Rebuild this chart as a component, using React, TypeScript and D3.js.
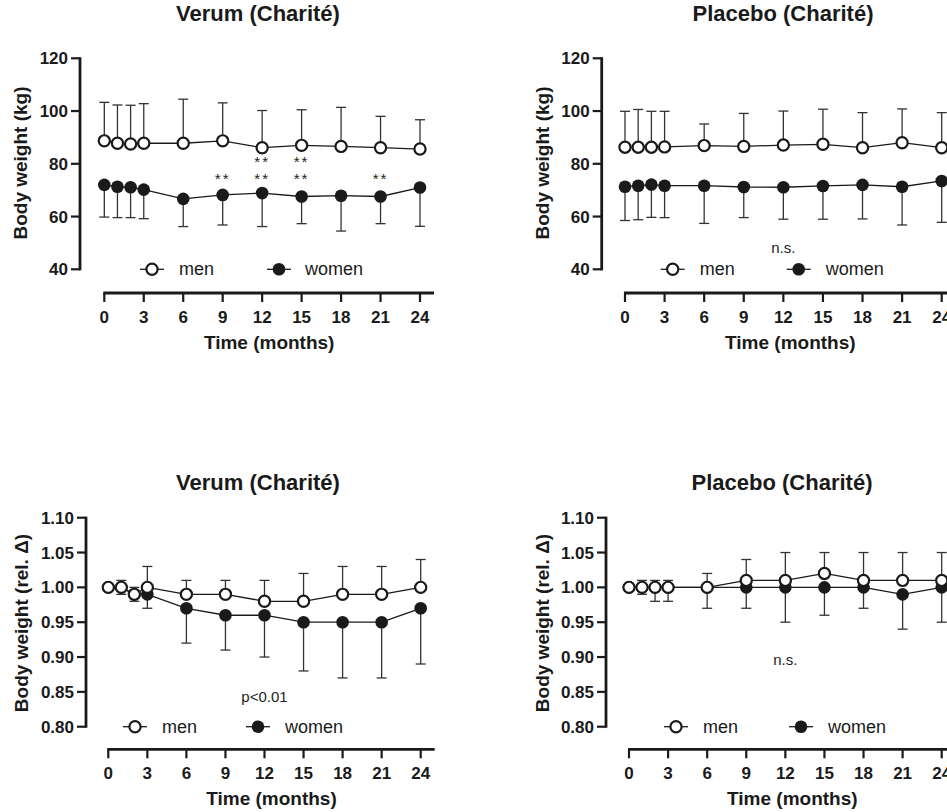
import React from 'react';
import * as d3 from 'd3';

// time points (months) and axis ticks
const months = [0, 1, 2, 3, 6, 9, 12, 15, 18, 21, 24];
const xTicks = [0, 3, 6, 9, 12, 15, 18, 21, 24];
const kgTicks = [40, 60, 80, 100, 120];
const relTicks = [0.8, 0.85, 0.9, 0.95, 1.0, 1.05, 1.1];

// Verum, body weight in kg (mean, SD)
const verumKgMen = [88.7, 87.8, 87.5, 87.8, 87.8, 88.7, 86.1, 87.0, 86.6, 86.1, 85.6];
const verumKgMenSD = [14.6, 14.5, 14.7, 15.0, 16.7, 14.4, 14.1, 13.5, 14.8, 11.9, 11.1];
const verumKgWomen = [72.0, 71.3, 71.1, 70.2, 66.7, 68.2, 68.9, 67.6, 67.9, 67.6, 71.0];
const verumKgWomenSD = [12.2, 11.7, 11.5, 11.0, 10.5, 11.4, 12.7, 10.3, 13.4, 10.3, 14.7];

// Placebo, body weight in kg
const placeboKgMen = [86.3, 86.3, 86.3, 86.4, 86.9, 86.6, 87.1, 87.4, 86.1, 88.0, 86.1];
const placeboKgMenSD = [13.6, 14.3, 13.6, 13.5, 8.2, 12.5, 12.9, 13.3, 13.3, 12.8, 13.3];
const placeboKgWomen = [71.3, 71.7, 72.1, 71.7, 71.7, 71.2, 71.1, 71.6, 72.0, 71.3, 73.5];
const placeboKgWomenSD = [12.8, 12.9, 12.4, 12.1, 14.3, 11.6, 12.1, 12.6, 12.9, 14.5, 15.7];

// Verum, relative change
const verumRelMen = [1.0, 1.0, 0.99, 1.0, 0.99, 0.99, 0.98, 0.98, 0.99, 0.99, 1.0];
const verumRelMenSD = [0, 0.01, 0.01, 0.03, 0.02, 0.02, 0.03, 0.04, 0.04, 0.04, 0.04];
const verumRelWomen = [1.0, 1.0, 0.99, 0.99, 0.97, 0.96, 0.96, 0.95, 0.95, 0.95, 0.97];
const verumRelWomenSD = [0, 0.01, 0.01, 0.02, 0.05, 0.05, 0.06, 0.07, 0.08, 0.08, 0.08];

// Placebo, relative change
const placeboRelMen = [1.0, 1.0, 1.0, 1.0, 1.0, 1.01, 1.01, 1.02, 1.01, 1.01, 1.01];
const placeboRelMenSD = [0, 0.01, 0.01, 0.01, 0.02, 0.03, 0.04, 0.03, 0.04, 0.04, 0.04];
const placeboRelWomen = [1.0, 1.0, 1.0, 1.0, 1.0, 1.0, 1.0, 1.0, 1.0, 0.99, 1.0];
const placeboRelWomenSD = [0, 0.01, 0.02, 0.02, 0.03, 0.03, 0.05, 0.04, 0.03, 0.05, 0.05];

// significance marks: [month, value, text]
const verumKgMarks = [[9, 74.2, '**'], [12, 74.2, '**'], [15, 74.2, '**'], [21, 74.2, '**'], [12, 80.6, '**'], [15, 80.6, '**']];
const placeboKgMarks = [[12, 48.1, 'n.s.']];
const verumRelMarks = [[12, 0.843, 'p<0.01']];
const placeboRelMarks = [[12, 0.896, 'n.s.']];

const FONT = "'Liberation Sans', Arial, Helvetica, sans-serif";
const INK = '#1a1a1a';

const Panel = ({ p }) => {
	const x = d3.scaleLinear().domain([0, 24]).range([p.x0, p.x24]);
	const y = d3.scaleLinear().domain(p.domain).range([p.yBot, p.yTop]);
	const line = d3.line().x((d, i) => x(months[i])).y(d => y(d));
	const fmt = p.rel ? d3.format('.2f') : d3.format('d');
	const cap = 5;

	const bars = (vals, sd, dir) =>
		vals.map((v, i) => {
			if (!sd[i]) return null;
			const yEnd = y(v + dir * sd[i]);
			const xx = x(months[i]);
			return (
				<g key={`${dir}-${i}`} stroke="#333" strokeWidth={1.3}>
					<line x1={xx} x2={xx} y1={y(v)} y2={yEnd} />
					<line x1={xx - cap} x2={xx + cap} y1={yEnd} y2={yEnd} />
				</g>
			);
		});

	const legY = y(p.domain[0]);
	return (
		<g fontFamily={FONT} fill={INK}>
			<text x={p.titleX} y={p.titleY} textAnchor="middle" fontSize={22} fontWeight="bold">{p.title}</text>

			{/* y axis */}
			<line x1={p.yAxisX} x2={p.yAxisX} y1={p.yTop - 1} y2={p.yBot + 1} stroke={INK} strokeWidth={2.8} />
			{p.yTicks.map(t => (
				<g key={t}>
					<line x1={p.yAxisX - 9} x2={p.yAxisX} y1={y(t)} y2={y(t)} stroke={INK} strokeWidth={2.2} />
					<text x={p.yAxisX - 12} y={y(t)} dy="0.36em" textAnchor="end" fontSize={17} fontWeight="bold">{fmt(t)}</text>
				</g>
			))}
			<text transform={`translate(${p.yTitleX},${p.yTitleY}) rotate(-90)`} textAnchor="middle" fontSize={19} fontWeight="bold">{p.yTitle}</text>

			{/* x axis */}
			<line x1={x(0) - 1} x2={x(24) + 14} y1={p.xAxisY} y2={p.xAxisY} stroke={INK} strokeWidth={2.8} />
			{xTicks.map(t => (
				<g key={t}>
					<line x1={x(t)} x2={x(t)} y1={p.xAxisY} y2={p.xAxisY + 9} stroke={INK} strokeWidth={2.2} />
					<text x={x(t)} y={p.xAxisY + 30} textAnchor="middle" fontSize={17} fontWeight="bold">{t}</text>
				</g>
			))}
			<text x={(x(0) + x(24) + 14) / 2} y={p.xAxisY + 56} textAnchor="middle" fontSize={19} fontWeight="bold">Time (months)</text>

			{/* data */}
			{bars(p.women, p.womenSD, -1)}
			{bars(p.men, p.menSD, 1)}
			<path d={line(p.women)} fill="none" stroke={INK} strokeWidth={1.3} />
			<path d={line(p.men)} fill="none" stroke={INK} strokeWidth={1.3} />
			{p.women.map((v, i) => (
				<circle key={`w${i}`} cx={x(months[i])} cy={y(v)} r={6.3} fill={INK} />
			))}
			{p.men.map((v, i) => (
				<circle key={`m${i}`} cx={x(months[i])} cy={y(v)} r={5.6} fill="#fff" stroke={INK} strokeWidth={2.2} />
			))}

			{/* annotations */}
			{p.marks.map(([m, v, s], i) => (
				<text key={i} x={x(m)} y={y(v)} dy="0.35em" textAnchor="middle" fontSize={15} fill="#222" letterSpacing={s === '**' ? 2 : 0}>{s}</text>
			))}

			{/* legend */}
			<g>
				<line x1={p.yAxisX + p.leg[0] - 12} x2={p.yAxisX + p.leg[0] + 12} y1={legY} y2={legY} stroke={INK} strokeWidth={1.3} />
				<circle cx={p.yAxisX + p.leg[0]} cy={legY} r={5.6} fill="#fff" stroke={INK} strokeWidth={2.2} />
				<text x={p.yAxisX + p.leg[1]} y={legY} dy="0.33em" fontSize={18}>men</text>
				<line x1={p.yAxisX + p.leg[2] - 12} x2={p.yAxisX + p.leg[2] + 12} y1={legY} y2={legY} stroke={INK} strokeWidth={1.3} />
				<circle cx={p.yAxisX + p.leg[2]} cy={legY} r={6.3} fill={INK} />
				<text x={p.yAxisX + p.leg[3]} y={legY} dy="0.33em" fontSize={18}>women</text>
			</g>
		</g>
	);
};

const panels = [
	{
		title: 'Verum (Charité)', titleX: 258, titleY: 21,
		yTitle: 'Body weight (kg)', yTitleX: 27, yTitleY: 163,
		yAxisX: 80, yTop: 58.3, yBot: 269.3, domain: [40, 120], yTicks: kgTicks,
		x0: 104.3, x24: 420, xAxisY: 293, rel: false,
		men: verumKgMen, menSD: verumKgMenSD, women: verumKgWomen, womenSD: verumKgWomenSD,
		marks: verumKgMarks, leg: [72, 99, 199, 225],
	},
	{
		title: 'Placebo (Charité)', titleX: 783, titleY: 21,
		yTitle: 'Body weight (kg)', yTitleX: 549, yTitleY: 163,
		yAxisX: 601.7, yTop: 58.3, yBot: 269.3, domain: [40, 120], yTicks: kgTicks,
		x0: 625, x24: 941.7, xAxisY: 293, rel: false,
		men: placeboKgMen, menSD: placeboKgMenSD, women: placeboKgWomen, womenSD: placeboKgWomenSD,
		marks: placeboKgMarks, leg: [71, 98, 197, 224],
	},
	{
		title: 'Verum (Charité)', titleX: 258, titleY: 490,
		yTitle: 'Body weight (rel. Δ)', yTitleX: 28, yTitleY: 623,
		yAxisX: 86, yTop: 517.7, yBot: 726.7, domain: [0.8, 1.1], yTicks: relTicks,
		x0: 108.3, x24: 420.7, xAxisY: 749.3, rel: true,
		men: verumRelMen, menSD: verumRelMenSD, women: verumRelWomen, womenSD: verumRelWomenSD,
		marks: verumRelMarks, leg: [49, 76, 172, 199],
	},
	{
		title: 'Placebo (Charité)', titleX: 782, titleY: 490,
		yTitle: 'Body weight (rel. Δ)', yTitleX: 549, yTitleY: 623,
		yAxisX: 606, yTop: 517.7, yBot: 726.7, domain: [0.8, 1.1], yTicks: relTicks,
		x0: 629, x24: 941.7, xAxisY: 749.3, rel: true,
		men: placeboRelMen, menSD: placeboRelMenSD, women: placeboRelWomen, womenSD: placeboRelWomenSD,
		marks: placeboRelMarks, leg: [70, 97, 195, 222],
	},
];

export default function App() {
	return (
		<svg width={947} height={812} style={{ position: 'absolute', left: 0, top: 0, background: '#fff' }}>
			<rect width={947} height={812} fill="#fff" />
			{panels.map((p, i) => <Panel key={i} p={p} />)}
		</svg>
	);
}
